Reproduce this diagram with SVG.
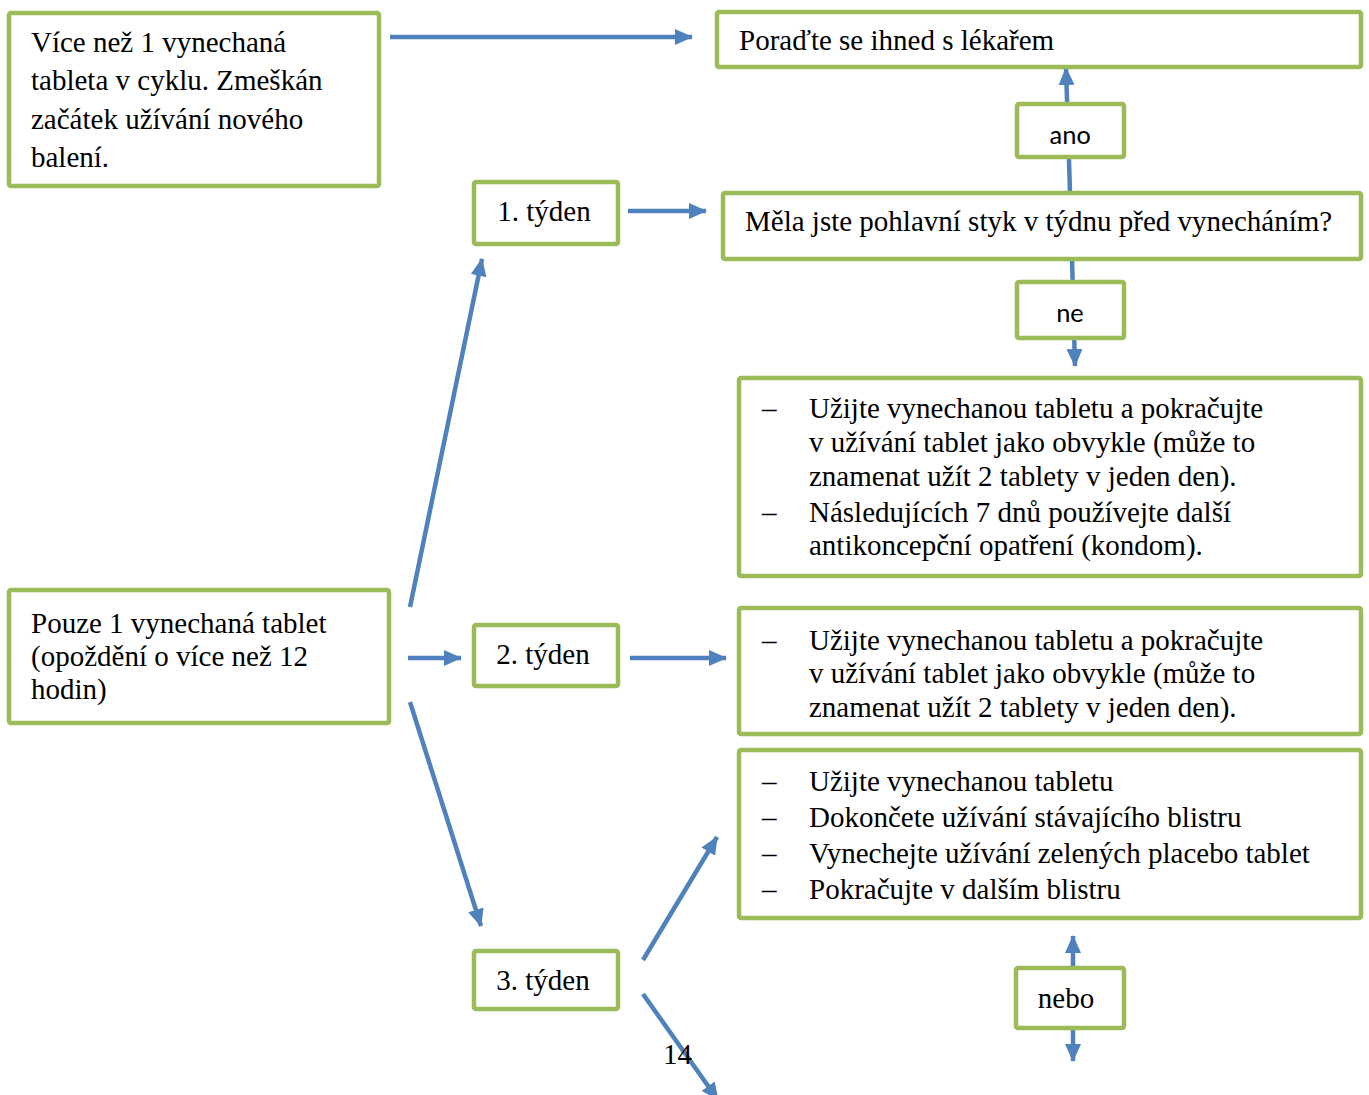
<svg xmlns="http://www.w3.org/2000/svg" width="1369" height="1095" viewBox="0 0 1369 1095">
<defs>
<marker id="ahb" markerWidth="18" markerHeight="16" refX="17" refY="8" orient="auto" markerUnits="userSpaceOnUse" viewBox="0 0 18 16">
<path d="M0,0 L18,8 L0,16 z" fill="#4F81BD"/>
</marker>
<style>
.box{fill:#fff;stroke:#9BBB59;stroke-width:4.5}
.t{font-family:"Liberation Serif","Times New Roman",serif;font-size:29px;fill:#000}
.s{font-family:"Carlito","Liberation Sans",Arial,sans-serif;font-size:27px;fill:#000}
.c{stroke:#4F81BD;stroke-width:4.5;fill:none;marker-end:url(#ahb)}
</style>
</defs>
<rect width="1369" height="1095" fill="#fff"/>
<g id="connectors">
<line class="c" x1="390" y1="37" x2="692" y2="37"/>
<line class="c" x1="1070" y1="192" x2="1066" y2="68"/>
<line class="c" x1="1072" y1="259" x2="1075" y2="366"/>
<line class="c" x1="628" y1="211" x2="706" y2="211"/>
<line class="c" x1="410" y1="607" x2="482" y2="259"/>
<line class="c" x1="408" y1="658" x2="461" y2="658"/>
<line class="c" x1="630" y1="658" x2="726" y2="658"/>
<line class="c" x1="410" y1="702" x2="481" y2="926"/>
<line class="c" x1="643" y1="960" x2="717" y2="837"/>
<line class="c" x1="643" y1="994" x2="718" y2="1100"/>
<line class="c" x1="1073" y1="968" x2="1073" y2="936"/>
<line class="c" x1="1073" y1="1029" x2="1073" y2="1061"/>
</g>
<g id="n1"><rect class="box" x="9" y="13" width="370" height="173" rx="2"/>
<text class="t" x="31" y="52">Více než 1 vynechaná</text>
<text class="t" x="31" y="90">tableta v cyklu. Zmeškán</text>
<text class="t" x="31" y="129">začátek užívání nového</text>
<text class="t" x="31" y="167">balení.</text></g>
<g id="n2"><rect class="box" x="717" y="12" width="644" height="55" rx="2"/>
<text class="t" x="739" y="50">Poraďte se ihned s lékařem</text></g>
<g id="n3"><rect class="box" x="1017" y="104" width="107" height="53" rx="2"/>
<text class="s" x="1070" y="144" text-anchor="middle">ano</text></g>
<g id="n4"><rect class="box" x="474" y="182" width="144" height="62" rx="2"/>
<text class="t" x="544" y="221" text-anchor="middle">1. týden</text></g>
<g id="n5"><rect class="box" x="723" y="193" width="638" height="66" rx="2"/>
<text class="t" x="745" y="231">Měla jste pohlavní styk v týdnu před vynecháním?</text></g>
<g id="n6"><rect class="box" x="1017" y="282" width="107" height="56" rx="2"/>
<text class="s" x="1070" y="322" text-anchor="middle">ne</text></g>
<g id="n7"><rect class="box" x="739" y="378" width="622" height="198" rx="2"/>
<text class="t" x="762" y="418">–</text><text class="t" x="809" y="418">Užijte vynechanou tabletu a pokračujte</text>
<text class="t" x="809" y="452">v užívání tablet jako obvykle (může to</text>
<text class="t" x="809" y="486">znamenat užít 2 tablety v jeden den).</text>
<text class="t" x="762" y="522">–</text><text class="t" x="809" y="522">Následujících 7 dnů používejte další</text>
<text class="t" x="809" y="555">antikoncepční opatření (kondom).</text></g>
<g id="n8"><rect class="box" x="9" y="590" width="380" height="133" rx="2"/>
<text class="t" x="31" y="633">Pouze 1 vynechaná tablet</text>
<text class="t" x="31" y="666">(opoždění o více než 12</text>
<text class="t" x="31" y="699">hodin)</text></g>
<g id="n9"><rect class="box" x="474" y="625" width="144" height="61" rx="2"/>
<text class="t" x="543" y="664" text-anchor="middle">2. týden</text></g>
<g id="n10"><rect class="box" x="739" y="608" width="622" height="126" rx="2"/>
<text class="t" x="762" y="650">–</text><text class="t" x="809" y="650">Užijte vynechanou tabletu a pokračujte</text>
<text class="t" x="809" y="683">v užívání tablet jako obvykle (může to</text>
<text class="t" x="809" y="717">znamenat užít 2 tablety v jeden den).</text></g>
<g id="n11"><rect class="box" x="739" y="750" width="622" height="168" rx="2"/>
<text class="t" x="762" y="791">–</text><text class="t" x="809" y="791">Užijte vynechanou tabletu</text>
<text class="t" x="762" y="827">–</text><text class="t" x="809" y="827">Dokončete užívání stávajícího blistru</text>
<text class="t" x="762" y="863">–</text><text class="t" x="809" y="863">Vynechejte užívání zelených placebo tablet</text>
<text class="t" x="762" y="899">–</text><text class="t" x="809" y="899">Pokračujte v dalším blistru</text></g>
<g id="n12"><rect class="box" x="474" y="951" width="144" height="58" rx="2"/>
<text class="t" x="543" y="990" text-anchor="middle">3. týden</text></g>
<g id="n13"><rect class="box" x="1016" y="968" width="108" height="60" rx="2"/>
<text class="t" x="1066" y="1008" text-anchor="middle">nebo</text></g>
<text class="t" x="663" y="1064">14</text>
</svg>
